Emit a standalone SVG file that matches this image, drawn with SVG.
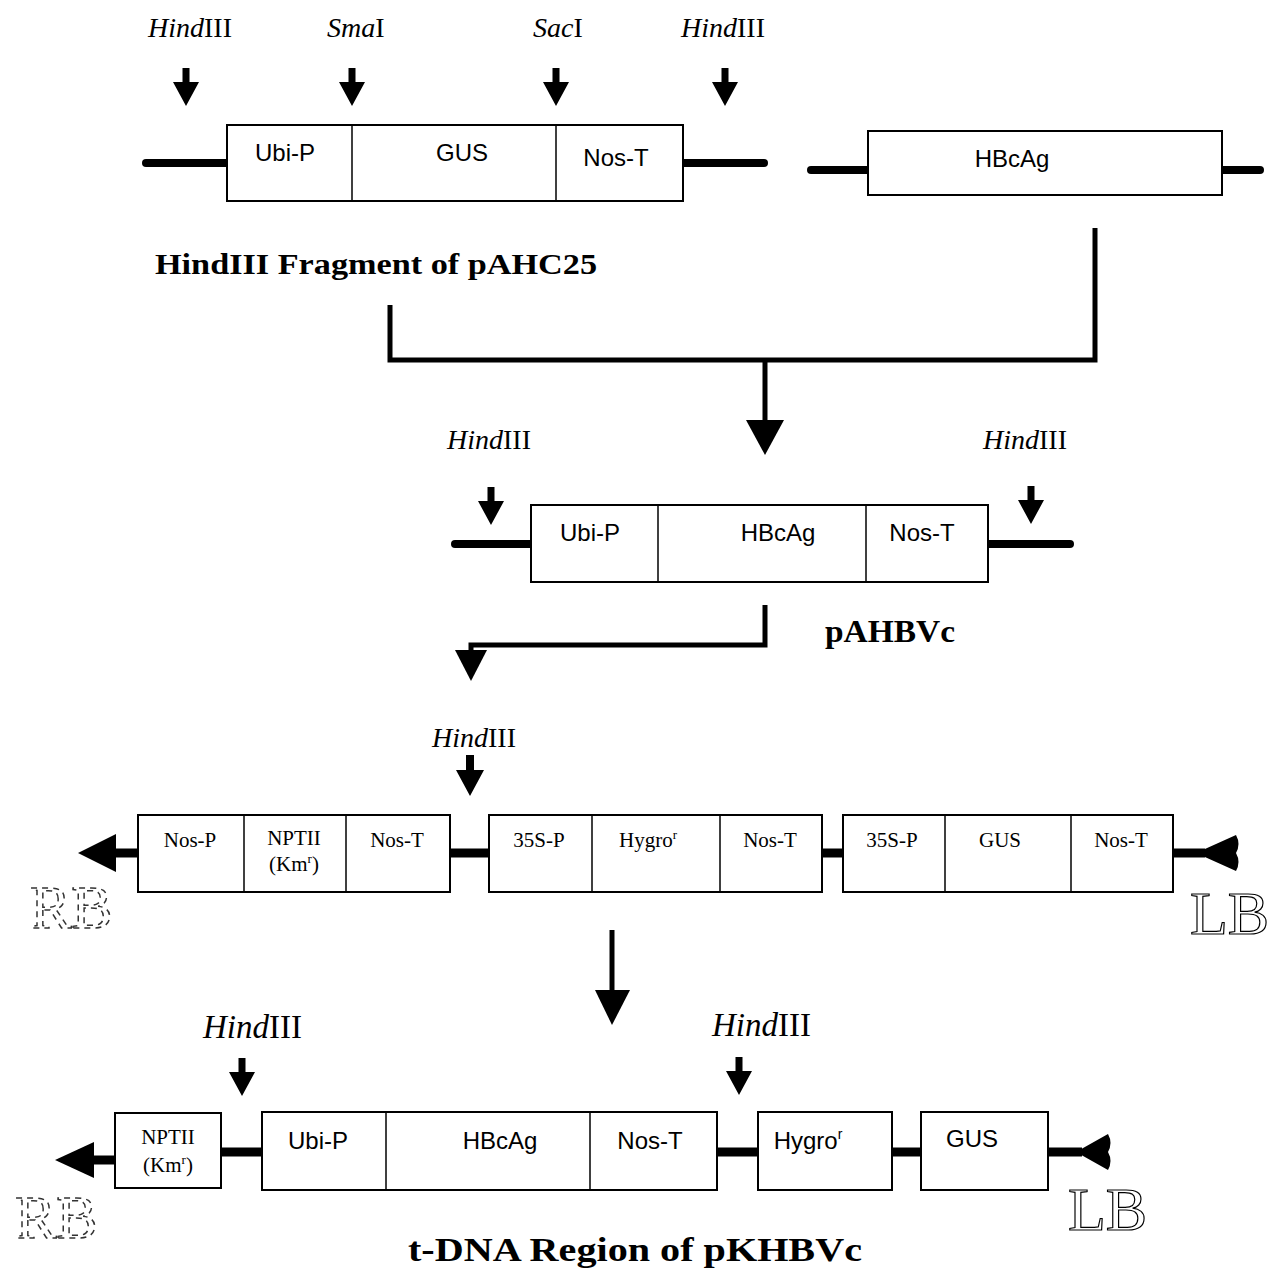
<svg xmlns="http://www.w3.org/2000/svg" width="1268" height="1271" viewBox="0 0 1268 1271">
<style>
.box{fill:#fff;stroke:#000;stroke-width:2}
.div{stroke:#000;stroke-width:1.5}
.dna{stroke:#000;stroke-width:8;stroke-linecap:round}
.conn{fill:none;stroke:#000;stroke-width:5}
.lbl{font-family:"Liberation Sans",Arial,sans-serif;font-size:24px;text-anchor:middle;fill:#000}
.lbs{font-family:"Liberation Serif","Times New Roman",serif;font-size:21px;text-anchor:middle;fill:#000}
.enz{font-family:"Liberation Serif","Times New Roman",serif;font-size:28px;fill:#000}
.enzb{font-family:"Liberation Serif","Times New Roman",serif;font-size:33px;fill:#000}
.title{font-family:"Liberation Serif","Times New Roman",serif;font-weight:bold;fill:#000}
.lb{font-family:"Liberation Serif","Times New Roman",serif;font-size:62px;fill:#fff;stroke:#000;stroke-width:1.2}
.rb{font-family:"Liberation Serif","Times New Roman",serif;font-size:62px;fill:#fff;stroke:#333;stroke-width:1.5;stroke-dasharray:6 5}
</style>
<defs>
<path id="cut" d="M-3.5,0 H3.5 V14 H13 L0,38 L-13,14 H-3.5 Z" fill="#000"/>
<path id="cutb" d="M-4,0 H4 V15 H14 L0,41 L-14,15 H-4 Z" fill="#000"/>
</defs>

<!-- Top: HindIII fragment of pAHC25 -->
<g id="labels-top">
<text class="enz" x="148" y="37"><tspan font-style="italic">Hind</tspan>III</text>
<text class="enz" x="327" y="37"><tspan font-style="italic">Sma</tspan>I</text>
<text class="enz" x="533" y="37"><tspan font-style="italic">Sac</tspan>I</text>
<text class="enz" x="681" y="37"><tspan font-style="italic">Hind</tspan>III</text>
<use href="#cut" x="186" y="68"/>
<use href="#cut" x="352" y="68"/>
<use href="#cut" x="556" y="68"/>
<use href="#cut" x="725" y="68"/>
</g>
<g id="frag-pAHC25">
<line class="dna" x1="146" y1="163" x2="227" y2="163"/>
<line class="dna" x1="683" y1="163" x2="764" y2="163"/>
<rect class="box" x="227" y="125" width="456" height="76"/>
<line class="div" x1="352" y1="125" x2="352" y2="201"/>
<line class="div" x1="556" y1="125" x2="556" y2="201"/>
<text class="lbl" x="285" y="161">Ubi-P</text>
<text class="lbl" x="462" y="161">GUS</text>
<text class="lbl" x="616" y="166">Nos-T</text>
</g>
<g id="frag-HBcAg">
<line class="dna" x1="811" y1="170" x2="868" y2="170"/>
<line class="dna" x1="1222" y1="170" x2="1260" y2="170"/>
<rect class="box" x="868" y="131" width="354" height="64"/>
<text class="lbl" x="1012" y="167">HBcAg</text>
</g>
<text class="title" x="155" y="274" font-size="30" textLength="442" lengthAdjust="spacingAndGlyphs">HindIII Fragment of pAHC25</text>

<g id="connectors">
<path class="conn" d="M390,305 V360 H1095 V228"/>
<line class="conn" x1="765" y1="360" x2="765" y2="422"/>
<path d="M746,420 H784 L765,455 Z" fill="#000"/>
<path class="conn" d="M765,605 V645 H471 V652"/>
<path d="M455,650 H487 L471,681 Z" fill="#000"/>
<line class="conn" x1="612" y1="930" x2="612" y2="992"/>
<path d="M595,990 H630 L612,1025 Z" fill="#000"/>
</g>

<!-- pAHBVc -->
<g id="pAHBVc">
<text class="enz" x="447" y="449"><tspan font-style="italic">Hind</tspan>III</text>
<text class="enz" x="983" y="449"><tspan font-style="italic">Hind</tspan>III</text>
<use href="#cut" x="491" y="487"/>
<use href="#cut" x="1031" y="486"/>
<line class="dna" x1="455" y1="544" x2="531" y2="544"/>
<line class="dna" x1="988" y1="544" x2="1070" y2="544"/>
<rect class="box" x="531" y="505" width="457" height="77"/>
<line class="div" x1="658" y1="505" x2="658" y2="582"/>
<line class="div" x1="866" y1="505" x2="866" y2="582"/>
<text class="lbl" x="590" y="541">Ubi-P</text>
<text class="lbl" x="778" y="541">HBcAg</text>
<text class="lbl" x="922" y="541">Nos-T</text>
</g>
<text class="title" x="825" y="642" font-size="31" textLength="130" lengthAdjust="spacingAndGlyphs">pAHBVc</text>

<!-- Third row -->
<g id="tdna-orig">
<text class="enz" x="432" y="747"><tspan font-style="italic">Hind</tspan>III</text>
<use href="#cutb" x="470" y="755"/>
<line x1="108" y1="853" x2="138" y2="853" stroke="#000" stroke-width="9"/>
<path d="M78,853 L116,834 L116,872 Z" fill="#000"/>
<line x1="450" y1="853" x2="489" y2="853" stroke="#000" stroke-width="9"/>
<line x1="822" y1="853" x2="843" y2="853" stroke="#000" stroke-width="9"/>
<line x1="1173" y1="853" x2="1205" y2="853" stroke="#000" stroke-width="9"/>
<path d="M1196,853 L1236,835 Q1241,844 1236,853 Q1241,862 1236,871 Z" fill="#000"/>
<rect class="box" x="138" y="815" width="312" height="77"/>
<line class="div" x1="244" y1="815" x2="244" y2="892"/>
<line class="div" x1="346" y1="815" x2="346" y2="892"/>
<text class="lbs" x="190" y="847">Nos-P</text>
<text class="lbs" x="294" y="845">NPTII</text>
<text class="lbs" x="294" y="871">(Km<tspan font-size="13" dy="-8">r</tspan><tspan dy="8">)</tspan></text>
<text class="lbs" x="397" y="847">Nos-T</text>
<rect class="box" x="489" y="815" width="333" height="77"/>
<line class="div" x1="592" y1="815" x2="592" y2="892"/>
<line class="div" x1="720" y1="815" x2="720" y2="892"/>
<text class="lbs" x="539" y="847">35S-P</text>
<text class="lbs" x="648" y="847">Hygro<tspan font-size="13" dy="-8">r</tspan></text>
<text class="lbs" x="770" y="847">Nos-T</text>
<rect class="box" x="843" y="815" width="330" height="77"/>
<line class="div" x1="945" y1="815" x2="945" y2="892"/>
<line class="div" x1="1071" y1="815" x2="1071" y2="892"/>
<text class="lbs" x="892" y="847">35S-P</text>
<text class="lbs" x="1000" y="847">GUS</text>
<text class="lbs" x="1121" y="847">Nos-T</text>
<text class="rb" x="30" y="928">RB</text>
<text class="lb" x="1190" y="934">LB</text>
</g>

<!-- Bottom row -->
<g id="tdna-pKHBVc">
<text class="enzb" x="203" y="1038"><tspan font-style="italic">Hind</tspan>III</text>
<text class="enzb" x="712" y="1036"><tspan font-style="italic">Hind</tspan>III</text>
<use href="#cut" x="242" y="1058"/>
<use href="#cut" x="739" y="1057"/>
<line x1="90" y1="1160" x2="115" y2="1160" stroke="#000" stroke-width="9"/>
<path d="M55,1160 L94,1142 L94,1178 Z" fill="#000"/>
<line x1="221" y1="1152" x2="262" y2="1152" stroke="#000" stroke-width="9"/>
<line x1="717" y1="1152" x2="758" y2="1152" stroke="#000" stroke-width="9"/>
<line x1="892" y1="1152" x2="921" y2="1152" stroke="#000" stroke-width="9"/>
<line x1="1048" y1="1152" x2="1082" y2="1152" stroke="#000" stroke-width="9"/>
<path d="M1076,1152 L1108,1134 Q1113,1143 1108,1152 Q1113,1161 1108,1170 Z" fill="#000"/>
<rect class="box" x="115" y="1113" width="106" height="75"/>
<text class="lbs" x="168" y="1144">NPTII</text>
<text class="lbs" x="168" y="1172">(Km<tspan font-size="13" dy="-8">r</tspan><tspan dy="8">)</tspan></text>
<rect class="box" x="262" y="1112" width="455" height="78"/>
<line class="div" x1="386" y1="1112" x2="386" y2="1190"/>
<line class="div" x1="590" y1="1112" x2="590" y2="1190"/>
<text class="lbl" x="318" y="1149">Ubi-P</text>
<text class="lbl" x="500" y="1149">HBcAg</text>
<text class="lbl" x="650" y="1149">Nos-T</text>
<rect class="box" x="758" y="1112" width="134" height="78"/>
<text class="lbl" x="808" y="1149">Hygro<tspan font-size="14" dy="-10">r</tspan></text>
<rect class="box" x="921" y="1112" width="127" height="78"/>
<text class="lbl" x="972" y="1147">GUS</text>
<text class="rb" x="15" y="1238">RB</text>
<text class="lb" x="1068" y="1230">LB</text>
</g>
<text class="title" x="408" y="1261" font-size="34" textLength="454" lengthAdjust="spacingAndGlyphs">t-DNA Region of pKHBVc</text>
</svg>
